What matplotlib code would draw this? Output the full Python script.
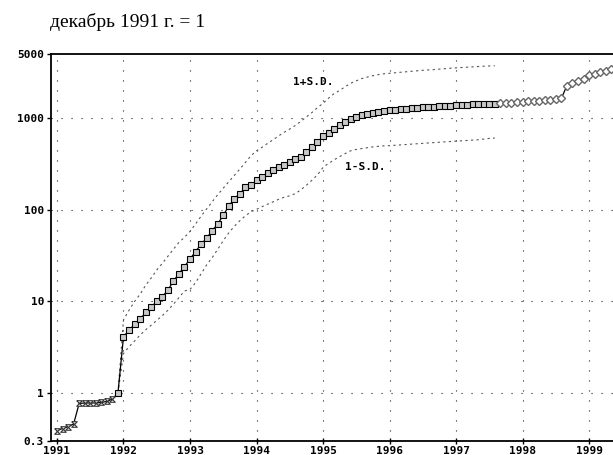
import numpy as np
import matplotlib.pyplot as plt
from matplotlib.ticker import NullLocator

# monthly index, Dec 1991 = 1
idx_1991 = [0.39, 0.41, 0.43, 0.46, 0.77, 0.78, 0.78, 0.78, 0.79, 0.81, 0.86, 1.0]
idx_1992 = [4.1, 4.9, 5.6, 6.4, 7.6, 8.7, 10.0, 11.3, 13.2, 16.7, 20.0, 24.0]
idx_1993 = [29, 35, 42, 49, 59, 70, 87, 110, 132, 150, 175, 185]
idx_1994 = [210, 228, 250, 272, 289, 309, 333, 356, 378, 428, 486, 543]
idx_1995 = [630, 688, 756, 838, 903, 981, 1030, 1090, 1120, 1140, 1160, 1180]
idx_1996 = [1215, 1240, 1250, 1270, 1290, 1300, 1320, 1320, 1330, 1350, 1360, 1370]
idx_1997 = [1380, 1390, 1400, 1410, 1415, 1420, 1425, 1430,
            1450, 1460, 1470, 1490]
idx_1998 = [1510, 1520, 1530, 1540, 1560, 1580, 1600, 1640,
            2250, 2410, 2530, 2690]
idx_1999 = [2930, 3040, 3170, 3300, 3440]

# +/- one standard deviation, Dec 1991 .. Aug 1997
sd_hi = [1.0,
         6.3, 8, 10, 12, 15, 18, 22, 26, 31, 37, 44, 50,
         58, 70, 85, 102, 122, 146, 172, 202, 237, 278, 328, 388,
         440, 480, 530, 580, 640, 700, 760, 830, 920, 1030, 1150, 1300,
         1450, 1650, 1850, 2000, 2200, 2400, 2550, 2700, 2800, 2900, 2980, 3040,
         3080, 3120, 3160, 3200, 3240, 3280, 3320, 3350, 3380, 3420, 3460, 3500,
         3530, 3560, 3590, 3620, 3650, 3680, 3700, 3720]
sd_lo = [1.0,
         2.7, 3.2, 3.7, 4.3, 4.9, 5.5, 6.2, 7.0, 8.0, 9.3, 11, 13,
         13.5, 16, 20, 25, 30, 37, 46, 56, 66, 76, 86, 95,
         101, 108, 115, 122, 130, 137, 142, 150, 165, 185, 210, 240,
         290, 320, 350, 380, 410, 440, 455, 465, 475, 485, 492, 498,
         500, 505, 510, 515, 520, 525, 530, 535, 540, 545, 550, 555,
         560, 565, 570, 575, 580, 590, 600, 605]

years = [1991, 1992, 1993, 1994, 1995, 1996, 1997, 1998, 1999]
y_ticks = [0.3, 1, 10, 100, 1000, 5000]
y_labels = ['0.3', '1', '10', '100', '1000', '5000']

values = np.array(idx_1991 + idx_1992 + idx_1993 + idx_1994 + idx_1995
                  + idx_1996 + idx_1997 + idx_1998 + idx_1999)
t = 1991.0 + np.arange(len(values)) / 12.0
t_sd = t[11:11 + len(sd_hi)]

n_x = 11          # Jan-Nov 1991
n_sq = 11 + 69    # squares up to Aug 1997

fig = plt.figure(figsize=(6.13, 4.55), dpi=100)
ax = fig.add_axes([51 / 613, 14 / 455, 562 / 613, 387 / 455])
ax.set_yscale('log')
ax.set_xlim(1990.91, 1999.36)
ax.set_ylim(0.3, 5000)

for yr in years:
    ax.axvline(yr, color='#222222', lw=0.8, ls=(0, (1, 8)), zorder=1)
for v in [1, 10, 100, 1000]:
    ax.axhline(v, color='#222222', lw=0.8, ls=(0, (1, 8)), zorder=1)

ax.plot(t_sd, sd_hi, color='#555555', lw=0.8, ls=(0, (2, 3)), zorder=2)
ax.plot(t_sd, sd_lo, color='#555555', lw=0.8, ls=(0, (2, 3)), zorder=2)

ax.plot(t, values, color='black', lw=0.9, zorder=3)
hourglass = [(-1, 1), (1, 1), (-1, -1), (1, -1), (-1, 1)]
ax.plot(t[:n_x], values[:n_x], ls='none', marker=hourglass, ms=4,
        mfc='white', mec='#333333', mew=0.8, zorder=4)
ax.plot(t[n_x:n_sq], values[n_x:n_sq], ls='none', marker='s', ms=4,
        mfc='#c8c8c8', mec='black', mew=0.8, zorder=4)
ax.plot(t[n_sq:], values[n_sq:], ls='none', marker='D', ms=4.5,
        mfc='white', mec='#666666', mew=1.0, zorder=4)

mono = dict(family='DejaVu Sans Mono', weight='bold', size=8)
ax.text(1994.55, 2450, '1+S.D.', ha='left', va='center', **mono)
ax.text(1995.33, 290, '1-S.D.', ha='left', va='center', **mono)

ax.set_xticks(years)
ax.set_xticklabels([str(y) for y in years], **mono)
ax.set_yticks(y_ticks)
ax.set_yticklabels(y_labels, **mono)
ax.yaxis.set_minor_locator(NullLocator())
ax.xaxis.set_minor_locator(NullLocator())
ax.tick_params(axis='x', direction='inout', length=5, width=1, pad=1)
ax.tick_params(axis='y', direction='out', length=3, width=1, pad=2)

ax.spines['right'].set_visible(False)
for s in ['left', 'top', 'bottom']:
    ax.spines[s].set_linewidth(1.3)

fig.text(50 / 613, 1 - 22 / 455, 'декабрь 1991 г. = 1',
         family='Liberation Serif', size=14, va='center', ha='left')

fig.savefig('out.png', dpi=100)
